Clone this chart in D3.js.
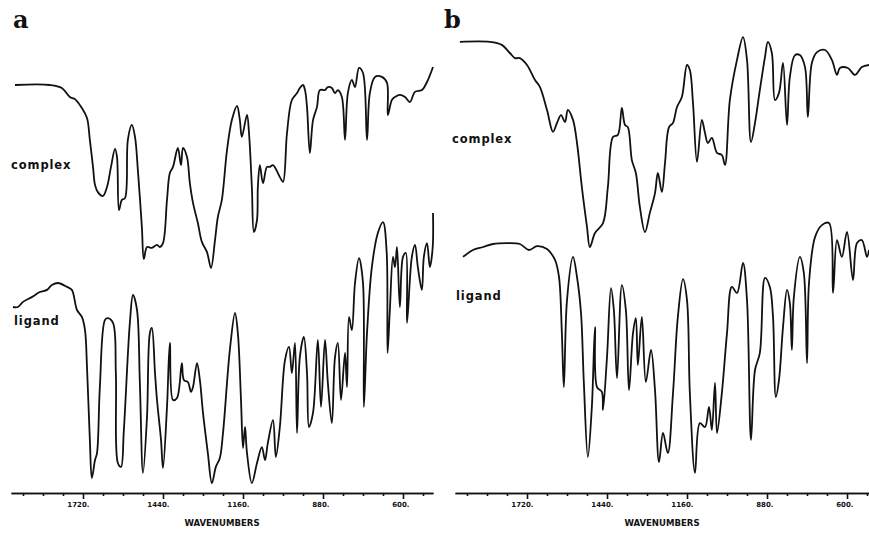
<!DOCTYPE html>
<html>
<head>
<meta charset="utf-8">
<script src="https://cdn.jsdelivr.net/npm/d3@7"></script>
<style>
  body { margin: 0; background: #fff; }
  svg { display: block; }
  .trace { fill: none; stroke: #111; stroke-width: 1.8; stroke-linejoin: round; }
  .lbl { font-family: "DejaVu Sans", sans-serif; font-weight: bold; font-size: 11.5px; letter-spacing: 0.9px; fill: #111; }
  .panel { font-family: "DejaVu Serif", serif; font-weight: bold; font-size: 24px; fill: #111; }
  .axis path, .axis line { stroke: #111; stroke-width: 1.6; }
  .axis text { font-family: "DejaVu Sans", sans-serif; font-weight: bold; font-size: 7px; fill: #111; }
  .xtitle { font-family: "DejaVu Sans Condensed", "DejaVu Sans", sans-serif; font-weight: bold; font-size: 9.5px; fill: #111; }
</style>
</head>
<body>
<div id="chart"></div>
<script>
// IR spectra, wavenumber (cm-1) vs transmittance (%)
var majorTicks = [1720, 1440, 1160, 880, 600];
var minorTicks = [1930, 1860, 1790, 1650, 1580, 1510, 1370, 1300, 1230, 1090, 1020, 950, 810, 740, 670, 530];

var aComplex = [[1958,65],[1836,65],[1794,64],[1766,61],[1748,60.3],[1724,57.3],[1706,54],[1696,46.7],[1685,37.7],[1678,31.7],
  [1668,29.3],[1650,28],[1636,31],[1622,37.7],[1608,43.7],[1601,41],[1594,23.3],[1584,26.7],[1573,27.3],[1563,46.7],
  [1549,51.7],[1538,47.7],[1528,36.7],[1514,17.7],[1507,7],[1496,11],[1479,10.7],[1461,11.7],[1451,11],[1440,12.3],
  [1426,26.7],[1416,35.7],[1405,37.7],[1388,44],[1377,38.3],[1370,44],[1356,41],[1346,32.3],[1335,25.7],[1318,19],
  [1304,12.7],[1286,9.3],[1272,4],[1258,13.3],[1248,21],[1234,26.7],[1216,43.3],[1199,53.3],[1181,58],[1171,53.3],
  [1164,47.7],[1146,55],[1139,49],[1129,31],[1122,16],[1111,20],[1108,31],[1101,38.3],[1090,32.3],[1076,37.7],
  [1066,37.7],[1055,38.3],[1031,34.3],[1020,32.7],[1006,49],[989,60],[971,62.3],[961,64],[950,65],[943,63.3],
  [936,57.7],[926,42.3],[915,53.3],[901,57.7],[891,63.3],[873,63.3],[863,64.3],[849,64],[838,62.3],[828,63.3],
  [814,61],[803,46.7],[793,62.3],[779,66.7],[768,64.3],[754,70.7],[740,69],[726,46.7],[716,62.3],[698,67.7],
  [674,67.7],[656,65.7],[653,55],[639,60],[628,61],[611,61.7],[593,61],[576,59.3],[558,62.7],[534,63.3],
  [516,66],[495,71]];

var aLigand = [[1965,61],[1948,61],[1930,62.7],[1899,64.3],[1871,66],[1846,66.7],[1829,68.3],[1808,69],[1776,67.7],[1759,66.7],
  [1741,60],[1724,57.7],[1713,53.3],[1706,41],[1696,16.7],[1689,4],[1678,10],[1671,12.3],[1661,34.3],[1643,56.7],
  [1633,57.3],[1615,55.7],[1605,39],[1598,9],[1587,7.7],[1577,20],[1556,55.7],[1545,65],[1531,60],[1521,35.7],
  [1510,5.7],[1496,24.3],[1486,52.3],[1479,54],[1468,39],[1461,30],[1447,16.7],[1440,7.3],[1426,27.7],[1416,49],
  [1405,30],[1391,30.7],[1374,42.3],[1367,36.7],[1353,36],[1342,32.7],[1335,34.3],[1321,42.3],[1311,36.7],[1300,25.7],
  [1283,12.3],[1269,2.3],[1255,7.7],[1241,10.7],[1230,19],[1206,46.7],[1188,59],[1178,52.3],[1167,30],[1160,14],
  [1153,21],[1146,12.3],[1129,2.3],[1111,9],[1094,14.3],[1083,10],[1073,15.7],[1055,23.3],[1045,11],[1031,21],
  [1013,43.3],[999,47.7],[989,39],[978,49],[971,19],[961,44.3],[947,51],[936,39],[929,21],[915,25.7],
  [898,50],[887,27.7],[873,50],[863,35.7],[849,22.3],[838,44.3],[828,49],[817,30],[803,45.7],[796,34.3],
  [789,57.7],[779,53.3],[768,69],[754,77.3],[740,69],[737,27.7],[726,52.3],[709,74.3],[688,85.7],[670,89.3],
  [657,79],[654,45.7],[646,60],[635,77.7],[628,74.3],[621,81],[611,61],[600,77.7],[590,79],[586,55.7],
  [569,77.7],[558,81.7],[548,74.3],[534,66.7],[527,77.7],[516,82.3],[506,74.3],[496,81],[495,92.3]];

var bComplex = [[1955,72.7],[1850,72.7],[1808,71.7],[1780,69],[1762,67.3],[1745,67.3],[1720,65],[1692,60],[1675,57.7],[1650,50],
  [1629,42.7],[1615,45.7],[1601,48.3],[1587,46],[1577,50],[1559,46.7],[1545,39],[1528,24.3],[1510,11],[1500,4.3],
  [1482,9],[1454,12.3],[1437,24.3],[1419,41],[1402,41.7],[1388,50.7],[1377,45],[1367,44.3],[1353,33.3],[1339,29],
  [1325,17.7],[1307,9.3],[1290,15.7],[1272,22.3],[1262,29],[1248,22.7],[1237,32.3],[1223,44.3],[1209,45.7],[1195,51],
  [1178,54.3],[1160,65],[1150,63.3],[1139,52.3],[1125,32.7],[1108,46.7],[1097,42.3],[1087,39],[1073,40.7],[1055,35.7],
  [1038,35],[1027,31.7],[1010,53.3],[985,66.7],[964,74.3],[950,66.7],[936,39.3],[922,45.7],[905,56.7],[887,67.7],
  [877,72.7],[863,69],[852,53.3],[838,55.7],[824,65.7],[810,45],[800,61],[782,68.3],[765,68.3],[747,64.3],
  [737,47.7],[723,65.7],[705,69.3],[677,70],[653,66.7],[635,61.7],[625,64],[597,64],[572,61.7],[548,64.3],
  [523,65]];

var bLigand = [[1944,77.7],[1909,80],[1874,81],[1839,82],[1790,82.3],[1745,82],[1713,80],[1685,81.3],[1650,80.3],[1622,76.7],
  [1608,71],[1598,52.3],[1591,34.3],[1580,63.3],[1559,77.7],[1545,71],[1531,59],[1521,35.7],[1507,11],[1493,27.7],
  [1482,54.3],[1475,34.3],[1458,32.7],[1454,26.7],[1440,44.3],[1426,67.3],[1416,60],[1405,37.3],[1388,68.3],[1374,60],
  [1363,33.3],[1349,52.3],[1339,57.3],[1332,41.7],[1318,57.7],[1304,36],[1286,46.7],[1272,33.3],[1258,9.3],[1244,19],
  [1227,12.3],[1209,32.3],[1192,57.7],[1174,70.3],[1160,63.3],[1150,32.3],[1132,5.7],[1115,22.3],[1097,21],[1083,27.7],
  [1073,20],[1062,35.7],[1055,19],[1038,32.3],[1020,52.3],[1003,67.7],[985,65.7],[964,75.7],[950,63.3],[936,16.7],
  [922,40],[905,45.7],[887,70.7],[870,67.7],[859,57.7],[849,31],[838,36.7],[824,54.3],[810,66.7],[800,62.3],
  [793,46.7],[786,64.3],[765,77.7],[751,72.3],[740,42.3],[733,69],[712,84.3],[688,88.3],[663,89],[649,65.7],
  [635,83.3],[618,77.7],[600,86],[579,70],[565,82.3],[548,83.3],[530,77.7],[523,80]];

var width = 869, height = 536;
var svg = d3.select("#chart").append("svg")
  .attr("width", width)
  .attr("height", height);

var panels = [
  { name: "a", domain: [1972, 495], range: [11, 433], labelX: 13,
    traces: [ { data: aComplex, base: 280, label: "complex", lx: 11, ly: 169 },
              { data: aLigand, base: 490, label: "ligand", lx: 14, ly: 325 } ] },
  { name: "b", domain: [1972, 523], range: [455, 869], labelX: 444,
    traces: [ { data: bComplex, base: 260, label: "complex", lx: 452, ly: 143 },
              { data: bLigand, base: 490, label: "ligand", lx: 456, ly: 300 } ] }
];

var axisY = 493;

panels.forEach(function(p) {
  var x = d3.scaleLinear().domain(p.domain).range(p.range);
  var g = svg.append("g");

  p.traces.forEach(function(t) {
    var y = d3.scaleLinear().domain([0, 100]).range([t.base, t.base - 300]);
    var line = d3.line()
      .x(d => x(d[0]))
      .y(d => y(d[1]))
      .curve(d3.curveCatmullRom.alpha(0.5));
    g.append("path")
      .datum(t.data)
      .attr("class", "trace")
      .attr("d", line);
    g.append("text")
      .attr("class", "lbl")
      .attr("x", t.lx)
      .attr("y", t.ly)
      .text(t.label);
  });

  // minor ticks first, major axis on top
  g.append("g")
    .attr("class", "axis")
    .attr("transform", `translate(0,${axisY})`)
    .call(d3.axisBottom(x).tickValues(minorTicks.filter(v => v > p.domain[1])).tickSize(3).tickSizeOuter(0).tickFormat(""));
  var ax = g.append("g")
    .attr("class", "axis")
    .attr("transform", `translate(0,${axisY})`)
    .call(d3.axisBottom(x).tickValues(majorTicks).tickSize(6).tickSizeOuter(0).tickFormat(d => d + "."));
  ax.selectAll("text")
    .attr("text-anchor", "end")
    .attr("x", 6)
    .attr("y", 14)
    .attr("dy", 0);

  g.append("text")
    .attr("class", "xtitle")
    .attr("x", (p.range[0] + p.range[1]) / 2)
    .attr("y", 526)
    .attr("text-anchor", "middle")
    .text("WAVENUMBERS");

  g.append("text")
    .attr("class", "panel")
    .attr("x", p.labelX)
    .attr("y", 28)
    .text(p.name);
});
</script>
</body>
</html>
